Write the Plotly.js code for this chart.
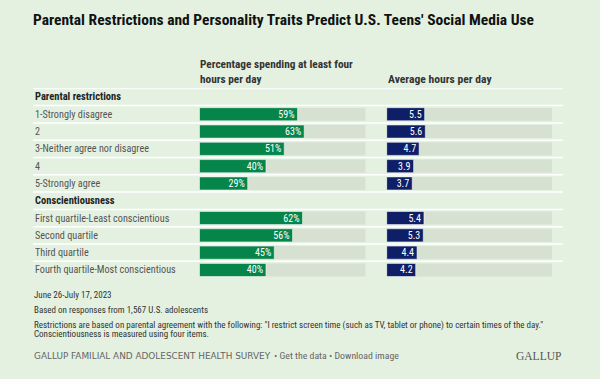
<!DOCTYPE html>
<html><head><meta charset="utf-8">
<script src="https://cdn.plot.ly/plotly-3.0.1.min.js"></script>
<style>html,body{margin:0;padding:0;background:#E4F1E1}#chart{width:600px;height:379px}</style>
</head><body><div id="chart"></div>
<script>
// ---- data ----
const rowLabels = ["Parental restrictions","1-Strongly disagree","2","3-Neither agree nor disagree","4","5-Strongly agree",
  "Conscientiousness","First quartile-Least conscientious","Second quartile","Third quartile","Fourth quartile-Most conscientious"];
const isHeader = [true,false,false,false,false,false,true,false,false,false,false];
const pctValues = [null,59,63,51,40,29,null,62,56,45,40];
const hourValues = [null,5.5,5.6,4.7,3.9,3.7,null,5.4,5.3,4.4,4.2];
const pctMax = 100;
const hourMax = 24;
const titleText = "Parental Restrictions and Personality Traits Predict U.S. Teens' Social Media Use";
const colHeader1 = "Percentage spending at least four<br>hours per day";
const colHeader2 = "Average hours per day";
const footNotes = ["June 26-July 17, 2023","Based on responses from 1,567 U.S. adolescents",
  "Restrictions are based on parental agreement with the following: \"I restrict screen time (such as TV, tablet or phone) to certain times of the day.\"",
  "Conscientiousness is measured using four items."];
const sourceText = "GALLUP FAMILIAL AND ADOLESCENT HEALTH SURVEY";
const linksText = "• Get the data • Download image";
const brandText = "GALLUP";

// ---- style ----
const W = 600, H = 379;
const px = x => x / W;
const py = y => 1 - y / H;
const BG = "#E4F1E1", TRACK = "#D6E1D2", GREEN = "#06854A", NAVY = "#0E1F68";
const FONT = '"Liberation Sans Narrow", "Roboto Condensed", Roboto, sans-serif';
const rowIdx = rowLabels.map((_, i) => i);
const nRows = rowLabels.length;
const gridTop = 88.3, gridBot = 278.6;

const barCommon = {type: "bar", orientation: "h", width: 0.76, hoverinfo: "skip", showlegend: false};
const traces = [
  Object.assign({}, barCommon, {x: pctValues.map(v => v == null ? null : pctMax), y: rowIdx, xaxis: "x", yaxis: "y",
    marker: {color: TRACK}}),
  Object.assign({}, barCommon, {x: hourValues.map(v => v == null ? null : hourMax), y: rowIdx, xaxis: "x2", yaxis: "y",
    marker: {color: TRACK}}),
  Object.assign({}, barCommon, {x: pctValues, y: rowIdx, xaxis: "x", yaxis: "y",
    marker: {color: GREEN, line: {color: "rgba(255,255,255,0.55)", width: 1}},
    text: pctValues.map(v => v == null ? "" : v + "%"), textposition: "inside", insidetextanchor: "end",
    constraintext: "none", textfont: {color: "#FFFFFF", size: 10, family: FONT}}),
  Object.assign({}, barCommon, {x: hourValues, y: rowIdx, xaxis: "x2", yaxis: "y",
    marker: {color: NAVY, line: {color: "rgba(255,255,255,0.55)", width: 1}},
    text: hourValues.map(v => v == null ? "" : v.toFixed(1)), textposition: "inside", insidetextanchor: "end",
    constraintext: "none", textfont: {color: "#FFFFFF", size: 10, family: FONT}})
];

const shapes = rowIdx.map(i => ({type: "line", xref: "paper", yref: "y", x0: px(33), x1: px(563),
  y0: i - 0.5, y1: i - 0.5, line: {color: "#FFFFFF", width: i === 0 ? 2 : 1.5}, layer: "below"}));

const annotations = rowLabels.map((t, i) => ({xref: "paper", yref: "y", x: px(33), y: i, xanchor: "left", yanchor: "middle",
  text: isHeader[i] ? "<b>" + t + "</b>" : t, showarrow: false,
  font: {family: FONT, size: isHeader[i] ? 10.5 : 10.2, color: isHeader[i] ? "#222222" : "#555555"}}));

const note = (t, x, y, size, color, family, anchor) => ({xref: "paper", yref: "paper", x: px(x), y: py(y),
  xanchor: anchor || "left", yanchor: "middle", align: "left", text: t, showarrow: false, borderpad: 0,
  font: {family: family || FONT, size: size, color: color}});

annotations.push(
  note("<b>" + colHeader1 + "</b>", 199, 72.5, 11.3, "#333333"),
  note("<b>" + colHeader2 + "</b>", 386.5, 79, 11.6, "#333333"),
  note(footNotes[0], 33, 294.5, 9, "#333333"),
  note(footNotes[1], 33, 309.5, 9, "#333333"),
  note(footNotes[2], 33, 325.5, 9, "#333333"),
  note(footNotes[3], 33, 334, 9, "#333333"),
  note(sourceText, 33, 355.5, 8.9, "#666666", "DejaVu Sans, sans-serif"),
  note(linksText, 273, 355.5, 9.8, "#666666"),
  note(brandText, 562, 355.5, 11.5, "#555555", '"Liberation Serif", serif', "right")
);

const axisCommon = {showgrid: false, zeroline: false, showticklabels: false, ticks: "", showline: false, fixedrange: true};
const layout = {
  width: W, height: H, margin: {l: 0, r: 0, t: 0, b: 0},
  paper_bgcolor: BG, plot_bgcolor: "rgba(0,0,0,0)",
  barmode: "overlay",
  title: {text: "<b>" + titleText + "</b>", x: px(33), xanchor: "left", xref: "paper", y: py(20), yref: "container", yanchor: "middle",
    font: {family: FONT, size: 15.5, color: "#111111"}},
  xaxis: Object.assign({}, axisCommon, {domain: [px(199.5), px(365.7)], range: [0, pctMax], anchor: "y"}),
  xaxis2: Object.assign({}, axisCommon, {domain: [px(386.7), px(552.3)], range: [0, hourMax], anchor: "y"}),
  yaxis: Object.assign({}, axisCommon, {domain: [1 - gridBot / H, 1 - gridTop / H], range: [nRows - 0.5, -0.5], anchor: "x"}),
  shapes: shapes, annotations: annotations
};
Plotly.newPlot("chart", traces, layout, {staticPlot: true, displayModeBar: false});
</script></body></html>
